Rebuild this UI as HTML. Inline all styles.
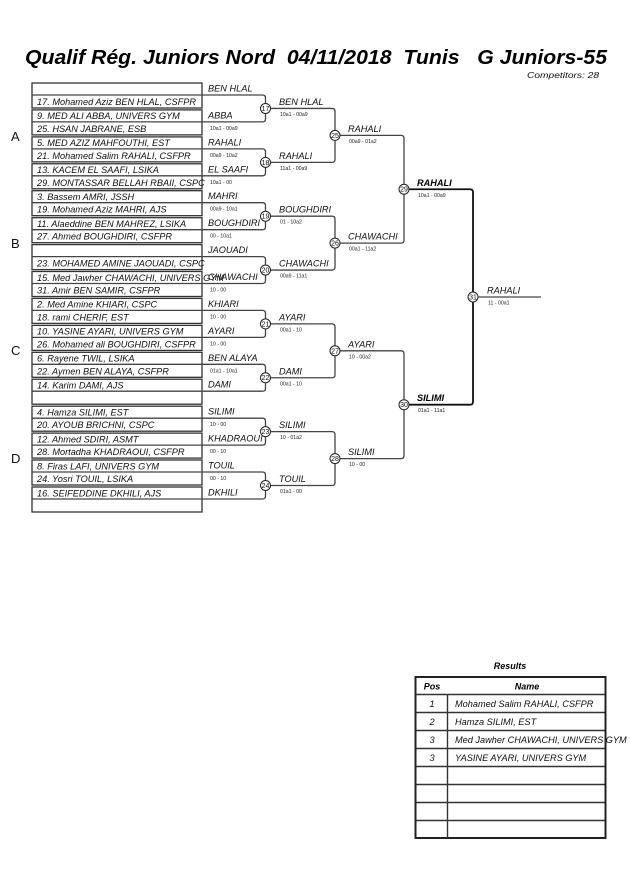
<!DOCTYPE html>
<html><head><meta charset="utf-8"><style>
html,body{margin:0;padding:0;background:#fff;}
svg{display:block;}
text{font-family:"Liberation Sans",Arial,sans-serif;}
.n{font-size:9.2px;font-style:italic;fill:#111;}
.l{font-size:9.2px;font-style:italic;fill:#111;}
.lb{font-size:9.2px;font-style:italic;font-weight:bold;fill:#000;}
.s{font-size:5.2px;fill:#222;}
.c{font-size:7px;fill:#111;text-anchor:middle;}
.g{font-size:13px;fill:#111;}
</style></head><body>
<svg width="630" height="891" viewBox="0 0 630 891" xmlns="http://www.w3.org/2000/svg">
<rect width="630" height="891" fill="#fff"/>
<text x="25" y="64" font-size="20" font-weight="bold" font-style="italic" fill="#000" textLength="582" lengthAdjust="spacingAndGlyphs" xml:space="preserve">Qualif Rég. Juniors Nord  04/11/2018  Tunis   G Juniors-55</text>
<text x="527" y="78" font-size="8.5" font-style="italic" fill="#111" textLength="72" lengthAdjust="spacingAndGlyphs">Competitors: 28</text>

<text class="g" x="11" y="141">A</text>
<text class="g" x="11" y="248">B</text>
<text class="g" x="11" y="355">C</text>
<text class="g" x="11" y="463">D</text>

<g fill="none" stroke="#333" stroke-width="1.3">
<rect x="32" y="83.0" width="170" height="25"/>
<rect x="32" y="109.9" width="170" height="25"/>
<rect x="32" y="136.9" width="170" height="25"/>
<rect x="32" y="163.8" width="170" height="25"/>
<rect x="32" y="190.7" width="170" height="25"/>
<rect x="32" y="217.7" width="170" height="25"/>
<rect x="32" y="244.6" width="170" height="25"/>
<rect x="32" y="271.5" width="170" height="25"/>
<rect x="32" y="298.4" width="170" height="25"/>
<rect x="32" y="325.4" width="170" height="25"/>
<rect x="32" y="352.3" width="170" height="25"/>
<rect x="32" y="379.2" width="170" height="25"/>
<rect x="32" y="406.2" width="170" height="25"/>
<rect x="32" y="433.1" width="170" height="25"/>
<rect x="32" y="460.0" width="170" height="25"/>
<rect x="32" y="487.0" width="170" height="25"/>
</g>

<!-- round 1 connectors (box mid lines) -->
<g fill="none" stroke="#444" stroke-width="1.3">
<path d="M32,95.0 H262.5 Q265.5,95.0 265.5,98.0 V118.9 Q265.5,121.9 262.5,121.9 H32"/>
<path d="M32,148.9 H262.5 Q265.5,148.9 265.5,151.9 V172.8 Q265.5,175.8 262.5,175.8 H32"/>
<path d="M32,202.7 H262.5 Q265.5,202.7 265.5,205.7 V226.7 Q265.5,229.7 262.5,229.7 H32"/>
<path d="M32,256.6 H262.5 Q265.5,256.6 265.5,259.6 V280.5 Q265.5,283.5 262.5,283.5 H32"/>
<path d="M32,310.4 H262.5 Q265.5,310.4 265.5,313.4 V334.4 Q265.5,337.4 262.5,337.4 H32"/>
<path d="M32,364.3 H262.5 Q265.5,364.3 265.5,367.3 V388.2 Q265.5,391.2 262.5,391.2 H32"/>
<path d="M32,418.2 H262.5 Q265.5,418.2 265.5,421.2 V442.1 Q265.5,445.1 262.5,445.1 H32"/>
<path d="M32,472.0 H262.5 Q265.5,472.0 265.5,475.0 V496.0 Q265.5,499.0 262.5,499.0 H32"/>
<!-- round 2 -->
<path d="M265.5,108.45 H332 Q335,108.45 335,111.45 V159.35 Q335,162.35 332,162.35 H265.5"/>
<path d="M265.5,216.2 H332 Q335,216.2 335,219.2 V267.05 Q335,270.05 332,270.05 H265.5"/>
<path d="M265.5,323.9 H332 Q335,323.9 335,326.9 V374.75 Q335,377.75 332,377.75 H265.5"/>
<path d="M265.5,431.65 H332 Q335,431.65 335,434.65 V482.5 Q335,485.5 332,485.5 H265.5"/>
<!-- round 3 -->
<path d="M335,135.4 H401 Q404,135.4 404,138.4 V240.1 Q404,243.1 401,243.1 H335"/>
<path d="M335,350.8 H401 Q404,350.8 404,353.8 V455.6 Q404,458.6 401,458.6 H335"/>
<!-- final -->
<path d="M473,297 H541"/>
</g>
<g fill="none" stroke="#111" stroke-width="1.8">
<path d="M404,189.25 H470 Q473,189.25 473,192.25 V401.7 Q473,404.7 470,404.7 H404"/>
</g>

<!-- circles -->
<g fill="#fff" stroke="#222" stroke-width="1">
<circle cx="265.5" cy="108.45" r="5"/>
<circle cx="265.5" cy="162.35" r="5"/>
<circle cx="265.5" cy="216.2" r="5"/>
<circle cx="265.5" cy="270.05" r="5"/>
<circle cx="265.5" cy="323.9" r="5"/>
<circle cx="265.5" cy="377.75" r="5"/>
<circle cx="265.5" cy="431.65" r="5"/>
<circle cx="265.5" cy="485.5" r="5"/>
<circle cx="335" cy="135.4" r="5"/>
<circle cx="335" cy="243.1" r="5"/>
<circle cx="335" cy="350.8" r="5"/>
<circle cx="335" cy="458.6" r="5"/>
<circle cx="404" cy="189.25" r="5"/>
<circle cx="404" cy="404.7" r="5"/>
<circle cx="473" cy="297" r="5"/>
</g>
<text class="c" x="265.5" y="110.9">17</text>
<text class="c" x="265.5" y="164.8">18</text>
<text class="c" x="265.5" y="218.7">19</text>
<text class="c" x="265.5" y="272.5">20</text>
<text class="c" x="265.5" y="326.4">21</text>
<text class="c" x="265.5" y="380.2">22</text>
<text class="c" x="265.5" y="434.1">23</text>
<text class="c" x="265.5" y="488">24</text>
<text class="c" x="335" y="137.9">25</text>
<text class="c" x="335" y="245.6">26</text>
<text class="c" x="335" y="353.3">27</text>
<text class="c" x="335" y="461.1">28</text>
<text class="c" x="404" y="191.7">29</text>
<text class="c" x="404" y="407.2">30</text>
<text class="c" x="473" y="299.5">31</text>

<!-- box names -->
<text class="n" x="37" y="105.0">17. Mohamed Aziz BEN HLAL, CSFPR</text>
<text class="n" x="37" y="119.2">9. MED ALI ABBA, UNIVERS GYM</text>
<text class="n" x="37" y="131.9">25. HSAN JABRANE, ESB</text>
<text class="n" x="37" y="146.2">5. MED AZIZ MAHFOUTHI, EST</text>
<text class="n" x="37" y="158.9">21. Mohamed Salim RAHALI, CSFPR</text>
<text class="n" x="37" y="173.1">13. KACEM EL SAAFI, LSIKA</text>
<text class="n" x="37" y="185.8">29. MONTASSAR BELLAH RBAII, CSPC</text>
<text class="n" x="37" y="200.0">3. Bassem AMRI, JSSH</text>
<text class="n" x="37" y="212.7">19. Mohamed Aziz MAHRI, AJS</text>
<text class="n" x="37" y="227.0">11. Alaeddine BEN MAHREZ, LSIKA</text>
<text class="n" x="37" y="239.7">27. Ahmed BOUGHDIRI, CSFPR</text>
<text class="n" x="37" y="266.6">23. MOHAMED AMINE JAOUADI, CSPC</text>
<text class="n" x="37" y="280.8">15. Med Jawher CHAWACHI, UNIVERS GYM</text>
<text class="n" x="37" y="293.5">31. Amir BEN SAMIR, CSFPR</text>
<text class="n" x="37" y="307.7">2. Med Amine KHIARI, CSPC</text>
<text class="n" x="37" y="320.4">18. rami CHERIF, EST</text>
<text class="n" x="37" y="334.7">10. YASINE AYARI, UNIVERS GYM</text>
<text class="n" x="37" y="347.4">26. Mohamed ali BOUGHDIRI, CSFPR</text>
<text class="n" x="37" y="361.6">6. Rayene TWIL, LSIKA</text>
<text class="n" x="37" y="374.3">22. Aymen BEN ALAYA, CSFPR</text>
<text class="n" x="37" y="388.5">14. Karim DAMI, AJS</text>
<text class="n" x="37" y="415.5">4. Hamza SILIMI, EST</text>
<text class="n" x="37" y="428.2">20. AYOUB BRICHNI, CSPC</text>
<text class="n" x="37" y="442.4">12. Ahmed SDIRI, ASMT</text>
<text class="n" x="37" y="455.1">28. Mortadha KHADRAOUI, CSFPR</text>
<text class="n" x="37" y="469.3">8. Firas LAFI, UNIVERS GYM</text>
<text class="n" x="37" y="482.0">24. Yosri TOUIL, LSIKA</text>
<text class="n" x="37" y="496.3">16. SEIFEDDINE DKHILI, AJS</text>

<!-- round 1 labels -->
<text class="l" x="208" y="91.5">BEN HLAL</text>
<text class="l" x="208" y="118.4">ABBA</text><text class="s" x="210" y="129.9">10a1 - 00a9</text>
<text class="l" x="208" y="145.4">RAHALI</text><text class="s" x="210" y="156.9">00a9 - 10a2</text>
<text class="l" x="208" y="172.3">EL SAAFI</text><text class="s" x="210" y="183.8">10a1 - 00</text>
<text class="l" x="208" y="199.2">MAHRI</text><text class="s" x="210" y="210.7">00a9 - 10a1</text>
<text class="l" x="208" y="226.2">BOUGHDIRI</text><text class="s" x="210" y="237.7">00 - 10a1</text>
<text class="l" x="208" y="253.1">JAOUADI</text>
<text class="l" x="208" y="280.0">CHAWACHI</text><text class="s" x="210" y="291.5">10 - 00</text>
<text class="l" x="208" y="306.9">KHIARI</text><text class="s" x="210" y="318.4">10 - 00</text>
<text class="l" x="208" y="333.9">AYARI</text><text class="s" x="210" y="345.4">10 - 00</text>
<text class="l" x="208" y="360.8">BEN ALAYA</text><text class="s" x="210" y="372.3">01a1 - 10a1</text>
<text class="l" x="208" y="387.7">DAMI</text>
<text class="l" x="208" y="414.7">SILIMI</text><text class="s" x="210" y="426.2">10 - 00</text>
<text class="l" x="208" y="441.6">KHADRAOUI</text><text class="s" x="210" y="453.1">00 - 10</text>
<text class="l" x="208" y="468.5">TOUIL</text><text class="s" x="210" y="480">00 - 10</text>
<text class="l" x="208" y="495.5">DKHILI</text>

<!-- round 2 labels -->
<text class="l" x="279" y="104.95">BEN HLAL</text><text class="s" x="280" y="115.95">10a1 - 00a9</text>
<text class="l" x="279" y="158.85">RAHALI</text><text class="s" x="280" y="169.85">11a1 - 00a9</text>
<text class="l" x="279" y="212.7">BOUGHDIRI</text><text class="s" x="280" y="223.7">01 - 10a2</text>
<text class="l" x="279" y="266.55">CHAWACHI</text><text class="s" x="280" y="277.55">00a9 - 11a1</text>
<text class="l" x="279" y="320.4">AYARI</text><text class="s" x="280" y="331.4">00a1 - 10</text>
<text class="l" x="279" y="374.25">DAMI</text><text class="s" x="280" y="385.25">00a1 - 10</text>
<text class="l" x="279" y="428.15">SILIMI</text><text class="s" x="280" y="439.15">10 - 01a2</text>
<text class="l" x="279" y="482">TOUIL</text><text class="s" x="280" y="493">01a1 - 00</text>

<!-- round 3 labels -->
<text class="l" x="348" y="131.9">RAHALI</text><text class="s" x="349" y="142.9">00a9 - 01a2</text>
<text class="l" x="348" y="239.6">CHAWACHI</text><text class="s" x="349" y="250.6">00a1 - 11a2</text>
<text class="l" x="348" y="347.3">AYARI</text><text class="s" x="349" y="358.3">10 - 00a2</text>
<text class="l" x="348" y="455.1">SILIMI</text><text class="s" x="349" y="466.1">10 - 00</text>

<!-- round 4 labels -->
<text class="lb" x="417" y="185.75">RAHALI</text><text class="s" x="418" y="196.75">10a1 - 00a9</text>
<text class="lb" x="417" y="401.2">SILIMI</text><text class="s" x="418" y="412.2">01a1 - 11a1</text>

<!-- final -->
<text class="l" x="487" y="293.5">RAHALI</text><text class="s" x="488" y="304.5">11 - 00a1</text>

<!-- results -->
<text x="510" y="669" font-size="9" font-weight="bold" font-style="italic" text-anchor="middle" fill="#000">Results</text>
<g fill="none" stroke="#333" stroke-width="1.4">
<line x1="415.5" y1="694.5" x2="605.5" y2="694.5"/>
<line x1="415.5" y1="712.5" x2="605.5" y2="712.5"/>
<line x1="415.5" y1="730.5" x2="605.5" y2="730.5"/>
<line x1="415.5" y1="748.5" x2="605.5" y2="748.5"/>
<line x1="415.5" y1="766.5" x2="605.5" y2="766.5"/>
<line x1="415.5" y1="784.5" x2="605.5" y2="784.5"/>
<line x1="415.5" y1="802.5" x2="605.5" y2="802.5"/>
<line x1="415.5" y1="820.5" x2="605.5" y2="820.5"/>
<line x1="447.5" y1="694.5" x2="447.5" y2="838"/>
</g>
<rect x="415.5" y="677" width="190" height="161" fill="none" stroke="#222" stroke-width="2"/>
<text x="432" y="689.5" font-size="9" font-weight="bold" font-style="italic" text-anchor="middle" fill="#000">Pos</text>
<text x="527" y="689.5" font-size="9" font-weight="bold" font-style="italic" text-anchor="middle" fill="#000">Name</text>
<text class="n" x="432" y="707" text-anchor="middle">1</text>
<text class="n" x="455" y="707">Mohamed Salim RAHALI, CSFPR</text>
<text class="n" x="432" y="725" text-anchor="middle">2</text>
<text class="n" x="455" y="725">Hamza SILIMI, EST</text>
<text class="n" x="432" y="743" text-anchor="middle">3</text>
<text class="n" x="455" y="743">Med Jawher CHAWACHI, UNIVERS GYM</text>
<text class="n" x="432" y="761" text-anchor="middle">3</text>
<text class="n" x="455" y="761">YASINE AYARI, UNIVERS GYM</text>
</svg>
</body></html>
